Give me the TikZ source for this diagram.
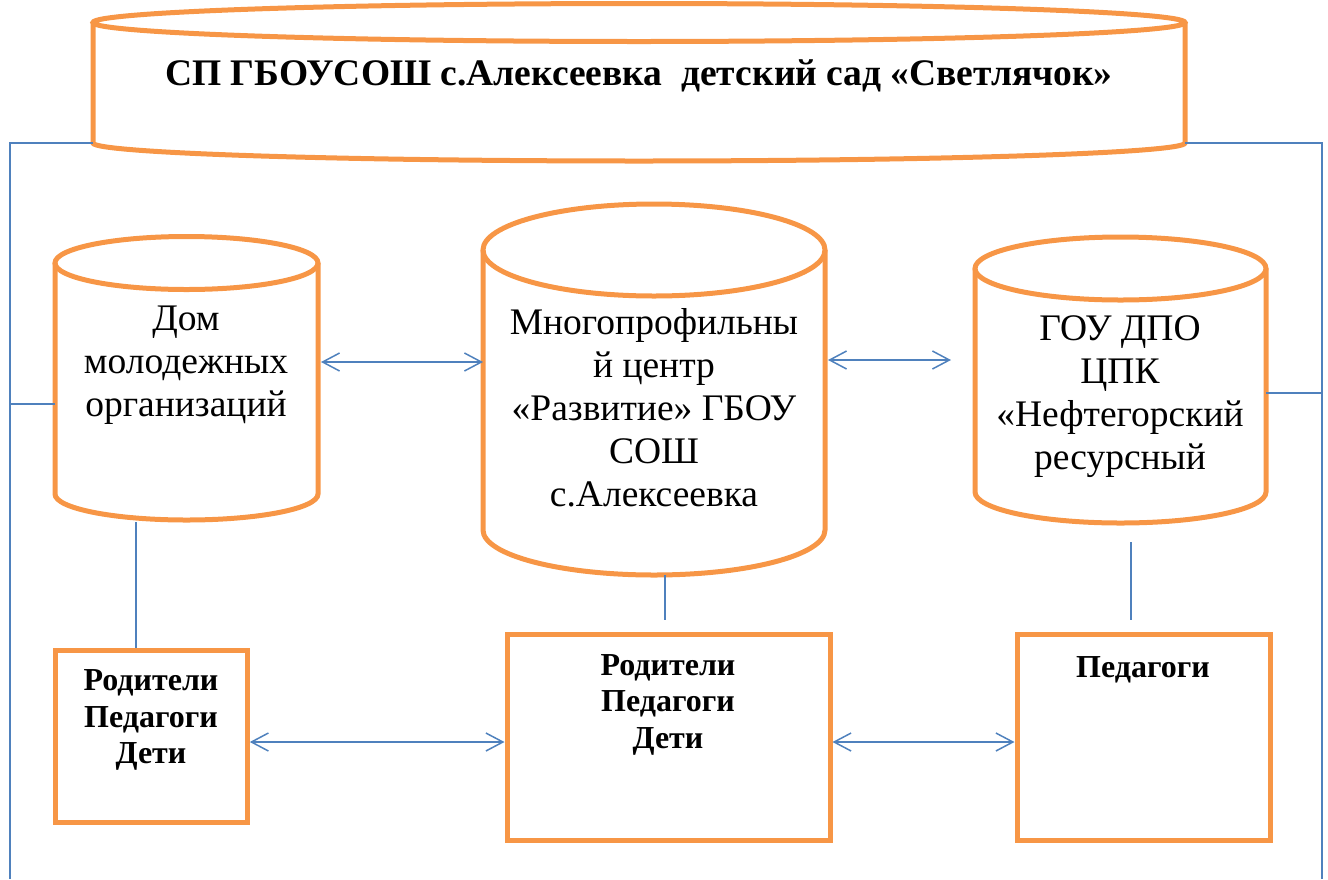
\documentclass[tikz,border=0pt]{standalone}
\usepackage{fontspec}
\setmainfont{Liberation Serif}
\usetikzlibrary{arrows.meta}
\definecolor{ora}{HTML}{F79646}
\definecolor{blu}{HTML}{4F81BD}
\begin{document}
\begin{tikzpicture}[x=1pt,y=1pt,
    body/.style={rectangle,inner sep=0pt,outer sep=0pt},
    cyl/.style={draw=ora,line width=5pt},
    frame/.style={draw=ora,line width=5pt,rectangle,inner sep=0pt},
    big/.style={align=center,inner sep=0pt,font=\fontsize{37.5}{43}\selectfont},
    bold/.style={align=center,inner sep=0pt,font=\bfseries\fontsize{32}{36.5}\selectfont},
    link/.style={draw=blu,line width=1.5pt},
    both/.style={<->,>={Straight Barb[length=17pt,width=18pt]}}]
  \useasboundingbox (0,0) rectangle (1328,-879);
  % cylinder bodies
  \node[body,minimum width=1092pt,minimum height=120.5pt] (sad) at (639,-82.75) {};
  \node[body,minimum width=263pt,minimum height=231pt] (dom) at (186.5,-378.5) {};
  \node[body,minimum width=342pt,minimum height=280pt] (centr) at (654,-390) {};
  \node[body,minimum width=291pt,minimum height=223.5pt] (gou) at (1120.5,-380.25) {};
  % boxes
  \node[frame,minimum width=191.6pt,minimum height=172.5pt] (rod1) at (151.5,-736.25) {};
  \node[frame,minimum width=323pt,minimum height=206.5pt] (rod2) at (668.5,-737.25) {};
  \node[frame,minimum width=253pt,minimum height=206.5pt] (ped) at (1143.5,-737.25) {};
  \draw[cyl] (sad.north west) -- (sad.south west) arc[start angle=180,end angle=360,x radius=546,y radius=18] -- (sad.north east);
  \draw[cyl] (sad.north) ellipse[x radius=546,y radius=19];
  \draw[cyl] (dom.north west) -- (dom.south west) arc[start angle=180,end angle=360,x radius=131.5,y radius=26] -- (dom.north east);
  \draw[cyl] (dom.north) ellipse[x radius=131.5,y radius=26.5];
  \draw[cyl] (centr.north west) -- (centr.south west) arc[start angle=180,end angle=360,x radius=171,y radius=45] -- (centr.north east);
  \draw[cyl] (centr.north) ellipse[x radius=171,y radius=46];
  \draw[cyl] (gou.north west) -- (gou.south west) arc[start angle=180,end angle=360,x radius=145.5,y radius=31] -- (gou.north east);
  \draw[cyl] (gou.north) ellipse[x radius=145.5,y radius=31.5];
  % texts
  \node[anchor=base,inner sep=0pt,font=\bfseries\fontsize{37.5}{44}\selectfont] (title) at (639,-85)
    {СП ГБОУСОШ с.Алексеевка\ \ детский сад «Светлячок»};
  \node[big] (domtxt) at (186,-365.7) {Дом\\молодежных\\организаций};
  \node[big] (centrtxt) at (654,-408.2) {Многопрофильны\\й центр\\«Развитие» ГБОУ\\СОШ\\с.Алексеевка};
  \node[big] (goutxt) at (1120,-396.2) {ГОУ ДПО\\ЦПК\\«Нефтегорский\\ресурсный};
  \node[bold] (rod1txt) at (151,-720) {Родители\\Педагоги\\Дети};
  \node[bold] (rod2txt) at (668,-704.6) {Родители\\Педагоги\\Дети};
  \node[bold] (pedtxt) at (1143,-669.6) {Педагоги};
  \coordinate (lft) at (10,-879);
  \coordinate (rgt) at (1322,-879);
  \begin{scope}[link]
    \draw (sad.south west) -| (lft);
    \draw (sad.south east) -| (rgt);
    \draw (dom.west |- 0,-404) -- (lft |- 0,-404);
    \draw (gou.east |- 0,-393) -- (rgt |- 0,-393);
    \draw (dom.south -| 136,0) ++(0,-28) -- (rod1.north -| 136,0);
    \draw (centr.south -| 665,0) ++(0,-45) -- ++(0,-45);
    \draw (gou.south -| 1131,0) ++(0,-50) -- ++(0,-78);
    \draw[both,shorten <=3pt] (dom.east |- 0,-362) -- (centr.west |- 0,-362);
    \draw[both,shorten >=24pt,shorten <=3pt] (centr.east |- 0,-360) -- (gou.west |- 0,-360);
    \draw[both] (rod1.east |- 0,-742) -- (rod2.west |- 0,-742);
    \draw[both] (rod2.east |- 0,-742) -- (ped.west |- 0,-742);
  \end{scope}
\end{tikzpicture}
\end{document}
